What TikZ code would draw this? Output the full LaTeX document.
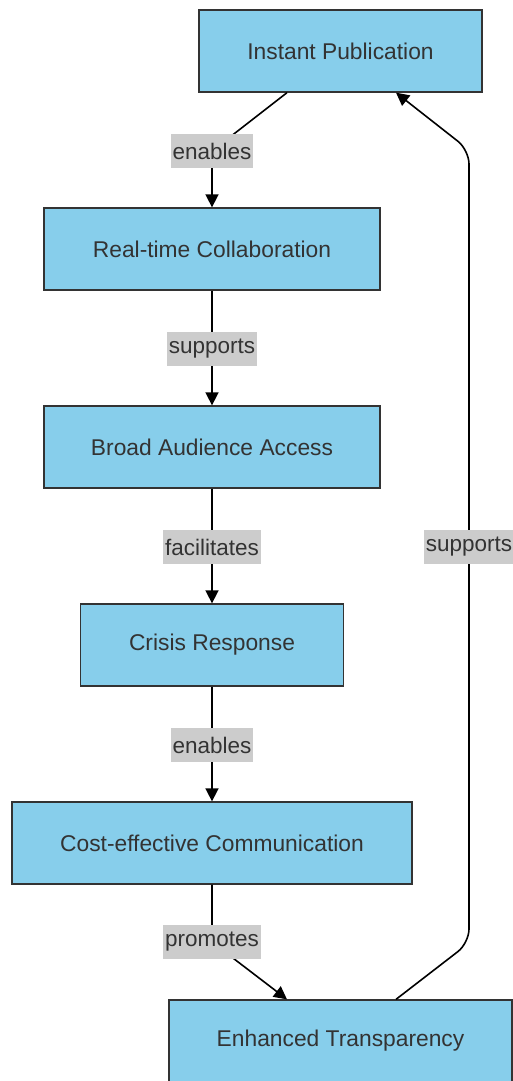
\documentclass[tikz,border=0pt]{standalone}
\usepackage{fontspec}
\setmainfont{Liberation Sans}
\usetikzlibrary{arrows.meta,calc}
\definecolor{boxfill}{HTML}{87CEEB}
\definecolor{boxline}{HTML}{333333}
\definecolor{txt}{HTML}{333333}
\definecolor{lblfill}{HTML}{CCCCCC}
\begin{document}
\begin{tikzpicture}[x=1pt,y=-1pt,
  box/.style={draw=boxline,line width=1.3pt,fill=boxfill,text=txt,minimum height=82pt,inner sep=0pt,font=\fontsize{22.8}{26}\selectfont},
  lbl/.style={sharp corners,fill=lblfill,text=txt,inner xsep=2pt,inner ysep=0pt,minimum height=34pt,font=\fontsize{22.5}{26}\selectfont},
  conn/.style={draw=black,line width=1.6pt,-{Triangle[length=13pt,width=13pt]}}]
\useasboundingbox (0,0) rectangle (513,1081);
\node[box,minimum width=283pt] (ip) at (340.5,51) {Instant Publication};
\node[box,minimum width=336pt] (rc) at (212,249) {Real-time Collaboration};
\node[box,minimum width=336pt] (ba) at (212,447) {Broad Audience Access};
\node[box,minimum width=263pt] (cr) at (212,645) {Crisis Response};
\node[box,minimum width=400pt] (ce) at (212,843) {Cost-effective Communication};
\node[box,minimum width=343pt] (et) at (340.5,1041) {Enhanced Transparency};
\draw[conn] ([xshift=-53.5pt]ip.south) -- (rc.north |- 0,151) node[lbl] (l1) {enables} -- (rc.north);
\draw[conn] (rc.south) -- (rc.south |- 0,349) node[lbl] (l2) {supports} -- (ba.north);
\draw[conn] (ba.south) -- (ba.south |- 0,547) node[lbl] (l3) {facilitates} -- (cr.north);
\draw[conn] (cr.south) -- (cr.south |- 0,745) node[lbl] (l4) {enables} -- (ce.north);
\draw[conn] (ce.south) -- (ce.south |- 0,942) node[lbl] (l5) {promotes} -- ([xshift=-53.5pt]et.north);
\draw[conn,rounded corners=14pt] ([xshift=55.5pt]et.north) -- (469,943) -- (469,547) node[lbl] (l6) {supports} -- (469,150) -- ([xshift=55.5pt]ip.south);
\end{tikzpicture}
\end{document}
